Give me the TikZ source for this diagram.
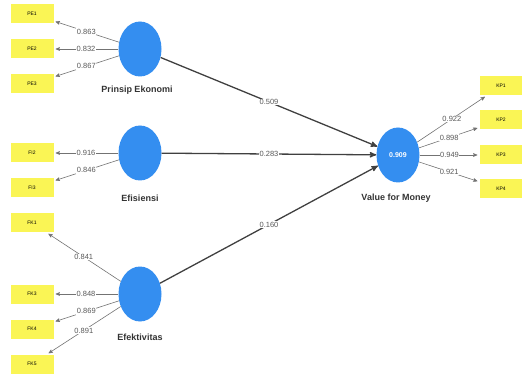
\documentclass[tikz,border=0pt]{standalone}
\usepackage{fontspec}
\setmainfont{Liberation Sans}
\usetikzlibrary{arrows}
\usetikzlibrary{positioning,shapes.geometric}
\definecolor{lvblue}{RGB}{52,142,240}
\definecolor{indyellow}{RGB}{250,245,85}
\tikzset{
    latent/.style = {ellipse, fill=lvblue, minimum width=43pt, minimum height=55pt, inner sep=0pt},
    indicator/.style = {fill=indyellow, minimum width=43pt, minimum height=19pt, inner sep=0pt,
                 font=\fontsize{5}{6}\selectfont},
    lvname/.style = {font=\fontsize{9}{10}\selectfont\bfseries, text=black!80},
    val/.style = {fill=white, inner sep=0.6pt, text=black!65, font=\fontsize{7.5}{8}\selectfont},
    loading/.style = {draw=black!55, line width=0.6pt, shorten >=2pt},
    path/.style = {draw=black!75, line width=1.3pt},
}
\begin{document}
\begin{tikzpicture}[->,>=stealth',x=1pt,y=-1pt]
 \useasboundingbox (0,0) rectangle (522,374);
 \node (pe)  [latent] at (140,49) {};
 \node (fi)  [latent] at (140,153) {};
 \node (fk)  [latent] at (140,294) {};
 \node (vfm) [latent] at (398,155) {\textcolor{white}{\bfseries\fontsize{7}{8}\selectfont 0.909}};
 \node (pe-t)  [lvname] at (137,90) {Prinsip Ekonomi};
 \node (fi-t)  [lvname] at (140,198) {Efisiensi};
 \node (fk-t)  [lvname] at (140,337) {Efektivitas};
 \node (vfm-t) [lvname] at (396,198) {Value for Money};

\node (pe1) [indicator] at (32,14) {PE1};
\node (pe2) [indicator] at (32,49) {PE2};
\node (pe3) [indicator] at (32,84) {PE3};
\node (fi2) [indicator] at (32,153) {FI2};
\node (fi3) [indicator] at (32,188) {FI3};
\node (fk1) [indicator] at (32,223) {FK1};
\node (fk3) [indicator] at (32,294) {FK3};
\node (fk4) [indicator] at (32,329) {FK4};
\node (fk5) [indicator] at (32,364) {FK5};
\node (kp1) [indicator] at (501,86) {KP1};
\node (kp2) [indicator] at (501,120) {KP2};
\node (kp3) [indicator] at (501,155) {KP3};
\node (kp4) [indicator] at (501,189) {KP4};

\draw[loading] (pe) to node[val] {0.863} (pe1);
\draw[loading] (pe) to node[val] {0.832} (pe2);
\draw[loading] (pe) to node[val] {0.867} (pe3);
\draw[loading] (fi) to node[val] {0.916} (fi2);
\draw[loading] (fi) to node[val] {0.846} (fi3);
\draw[loading] (fk) to node[val] {0.841} (fk1);
\draw[loading] (fk) to node[val] {0.848} (fk3);
\draw[loading] (fk) to node[val] {0.869} (fk4);
\draw[loading] (fk) to node[val] {0.891} (fk5);
\draw[loading] (vfm) to node[val] {0.922} (kp1);
\draw[loading] (vfm) to node[val] {0.898} (kp2);
\draw[loading] (vfm) to node[val] {0.949} (kp3);
\draw[loading] (vfm) to node[val] {0.921} (kp4);

\draw[path] (pe) to node[val] {0.509} (vfm);
\draw[path] (fi) to node[val] {0.283} (vfm);
\draw[path] (fk) to node[val] {0.160} (vfm);
\end{tikzpicture}
\end{document}
